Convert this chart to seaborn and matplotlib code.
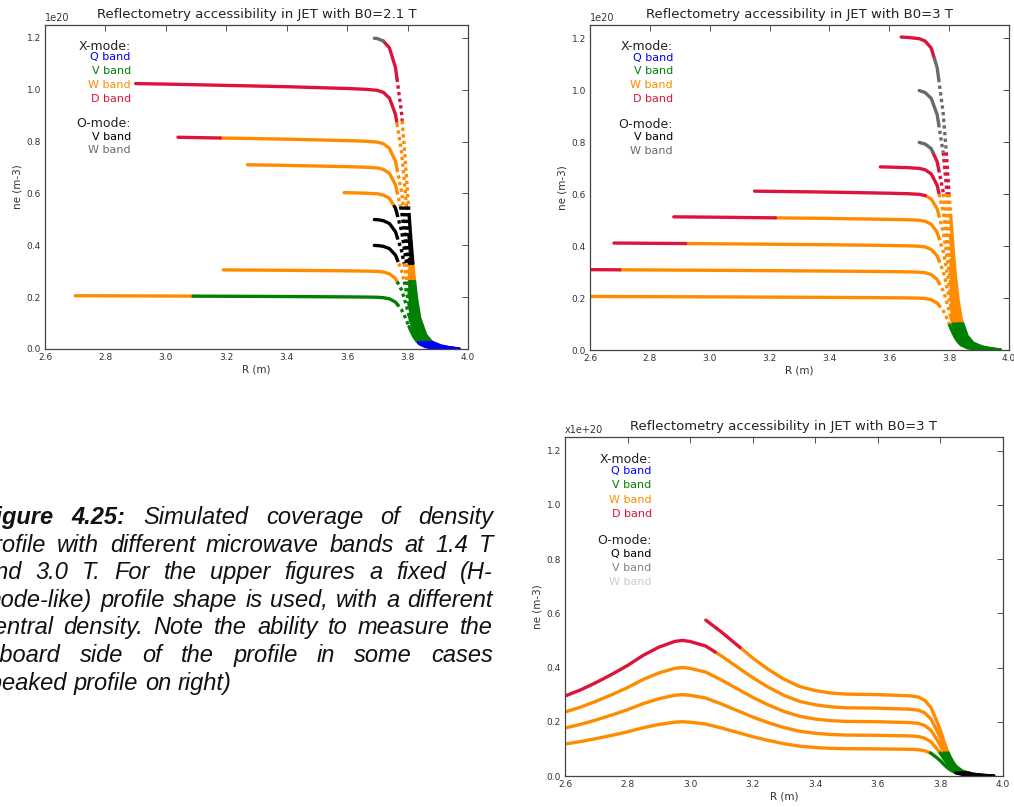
import numpy as np
import pandas as pd
import matplotlib
matplotlib.use("Agg")
import matplotlib.pyplot as plt
import seaborn as sns

# ---------------------------------------------------------------- data
x_ticks = [2.6, 2.8, 3.0, 3.2, 3.4, 3.6, 3.8, 4.0]
y_ticks = [0.0, 0.2, 0.4, 0.6, 0.8, 1.0, 1.2]

# H-mode-like profile shape, normalised to 1 at the pedestal top
hmode_R = [2.60, 3.00, 3.40, 3.60, 3.66, 3.70, 3.72, 3.74, 3.76, 3.78, 3.79,
           3.80, 3.81, 3.82, 3.83, 3.84, 3.86, 3.88, 3.91, 3.94, 3.97]
hmode_shape = [1.030, 1.022, 1.012, 1.005, 1.002, 0.998, 0.990, 0.968, 0.905,
               0.760, 0.640, 0.500, 0.365, 0.245, 0.160, 0.100, 0.045, 0.022,
               0.010, 0.004, 0.000]

# Peaked profile shape, normalised to 1 at the core maximum
peaked_R = [2.60, 2.65, 2.70, 2.75, 2.80, 2.85, 2.90, 2.95, 2.975, 3.00, 3.05,
            3.10, 3.15, 3.20, 3.25, 3.30, 3.35, 3.40, 3.45, 3.50, 3.60, 3.70,
            3.73, 3.75, 3.77, 3.79, 3.80, 3.81, 3.82, 3.83, 3.84, 3.85, 3.87,
            3.90, 3.93, 3.97]
peaked_shape = [0.590, 0.635, 0.690, 0.750, 0.815, 0.890, 0.950, 0.992, 1.000,
                0.992, 0.958, 0.885, 0.805, 0.725, 0.655, 0.595, 0.550, 0.525,
                0.510, 0.503, 0.500, 0.493, 0.485, 0.465, 0.420, 0.330, 0.280,
                0.220, 0.165, 0.120, 0.085, 0.058, 0.030, 0.013, 0.005, 0.000]

# B0 = 2.1 T : density scale of each profile (1e20 m^-3)
b21_density = [0.2, 0.3, 0.4, 0.5, 0.6, 0.7, 0.8, 1.0, 1.2]
# pieces along the flat part: (R where the band starts, band)
b21_pieces = [
    [(2.70, "XW"), (3.09, "XV")],
    [(3.19, "XW")],
    [(3.69, "OV")],
    [(3.69, "OV")],
    [(3.59, "XW")],
    [(3.27, "XW")],
    [(3.04, "XD"), (3.18, "XW")],
    [(2.90, "XD")],
    [(3.69, "OW")],
]
# bands reached on the steep edge, by density level
b21_edge = [(0.88, "XD"), (0.55, "XW"), (0.33, "OV"), (0.26, "XW"),
            (0.025, "XV"), (0.0, "XQ")]

# B0 = 3 T, H-mode-like profiles
b30_density = [0.2, 0.3, 0.4, 0.5, 0.6, 0.7, 0.8, 1.0, 1.2]
b30_pieces = [
    [(2.60, "XW")],
    [(2.60, "XD"), (2.70, "XW")],
    [(2.68, "XD"), (2.92, "XW")],
    [(2.88, "XD"), (3.22, "XW")],
    [(3.15, "XD")],
    [(3.57, "XD")],
    [(3.70, "OW")],
    [(3.70, "OW")],
    [(3.64, "XD")],
]
b30_edge = [(1.12, "XD"), (0.76, "OW"), (0.60, "XD"), (0.10, "XW"), (0.0, "XV")]

# B0 = 3 T, peaked profiles (density at the core maximum)
pk_density = [0.2, 0.3, 0.4, 0.5, 0.6]
pk_pieces = [
    [(2.60, "XW")],
    [(2.60, "XW")],
    [(2.60, "XW")],
    [(2.60, "XD"), (3.08, "XW")],
    [(3.05, "XD"), (3.16, "XW")],
]
pk_edge = [(0.085, "XW"), (0.012, "XV"), (0.0, "OQ")]

# colours of each band
pal_fixed = {"XQ": "#0000ff", "XV": "#008000", "XW": "#ff8c00", "XD": "#dc143c",
             "OV": "#000000", "OW": "#6a6a6a"}
pal_peaked = {"XQ": "#0000ff", "XV": "#008000", "XW": "#ff8c00", "XD": "#dc143c",
              "OQ": "#000000", "OV": "#858585", "OW": "#cccccc"}

xmode_keys = ["XQ", "XV", "XW", "XD"]
xmode_names = ["Q band", "V band", "W band", "D band"]
omode_keys_fixed = ["OV", "OW"]
omode_names_fixed = ["V band", "W band"]
omode_keys_peaked = ["OQ", "OV", "OW"]
omode_names_peaked = ["Q band", "V band", "W band"]

caption_lines = [
    ["Figure", "4.25:", "Simulated", "coverage", "of", "density"],
    "profile with different microwave bands at 1.4 T".split(),
    "and 3.0 T. For the upper figures a fixed (H-".split(),
    "mode-like) profile shape is used, with a different".split(),
    "central density. Note the ability to measure the".split(),
    "inboard side of the profile in some cases".split(),
    "(peaked profile on right)".split(),
]


# ---------------------------------------------------------------- helpers
def profile_frame(R_grid, shape, densities, pieces, edge_R, edge_bands,
                  steep=None):
    """Split every profile into coloured pieces and gather them in a table.

    Inside the `steep` R interval the sampled points spread apart, so
    those pieces are drawn with a broken line.
    """
    R_grid = np.asarray(R_grid, float)
    f = np.asarray(shape, float)
    rows = []
    seg_id = 0
    for n0, plist in zip(densities, pieces):
        marks = [(r, b) for r, b in plist if r < edge_R]
        f_edge0 = np.interp(edge_R, R_grid, f)
        Re = np.concatenate([[edge_R], R_grid[R_grid > edge_R]])
        ne_e = n0 * np.concatenate([[f_edge0], f[R_grid > edge_R]])
        start_band = edge_bands[-1][1]
        for lvl, b in edge_bands:
            if ne_e[0] >= lvl:
                start_band = b
                break
        marks.append((edge_R, start_band))
        for i in range(len(edge_bands) - 1):
            lvl = edge_bands[i][0]
            if lvl < ne_e[0]:
                r_cross = np.interp(lvl, ne_e[::-1], Re[::-1])
                marks.append((float(r_cross), edge_bands[i + 1][1]))
        marks.sort()
        merged = []
        for r, b in marks:
            if merged and merged[-1][1] == b:
                continue
            merged.append((r, b))
        cuts = [r for r, _ in merged]
        if steep is not None:
            cuts += [s for s in steep if s > cuts[0]]
        cuts = sorted(set(cuts)) + [R_grid[-1]]
        for a, e in zip(cuts[:-1], cuts[1:]):
            if e <= a:
                continue
            band = [b for r, b in merged if r <= a][-1]
            look = "flat"
            if steep is not None and steep[0] <= a < steep[1]:
                look = "steep"
            inner = R_grid[(R_grid > a) & (R_grid < e)]
            R = np.concatenate([[a], inner, [e]])
            ne = n0 * np.interp(R, R_grid, f)
            for rv, nv in zip(R, ne):
                rows.append({"R": rv, "ne": nv, "band": band, "look": look,
                             "seg": seg_id})
            seg_id += 1
    return pd.DataFrame(rows)


def style_axes(ax, title, offset):
    ax.set_xlim(2.6, 4.0)
    ax.set_ylim(0.0, 1.25)
    ax.set_xticks(x_ticks)
    ax.set_yticks(y_ticks)
    ax.set_xticklabels([f"{v:.1f}" for v in x_ticks])
    ax.set_yticklabels([f"{v:.1f}" for v in y_ticks])
    ax.tick_params(direction="in", top=True, right=True, length=4, width=0.6,
                   labelsize=6.5, pad=3, colors="#333333")
    ax.set_title(title, fontsize=9.5, pad=5, color="#222222")
    ax.set_xlabel("R (m)", fontsize=7.5, labelpad=2, color="#333333")
    ax.set_ylabel("ne (m-3)", fontsize=7.5, labelpad=3, color="#333333")
    for s in ax.spines.values():
        s.set_color("#444444")
        s.set_linewidth(0.9)
        s.set_visible(True)
    ax.text(0.0, 1.006, offset, transform=ax.transAxes, fontsize=7,
            ha="left", va="bottom", color="#333333")


def band_key(ax, pal, okeys, onames, ys_x, ys_o, xr=0.200):
    ax.text(xr, ys_x[0], "X-mode:", transform=ax.transAxes, ha="right",
            va="center", fontsize=9, color="#222222")
    for k, n, y in zip(xmode_keys, xmode_names, ys_x[1:]):
        ax.text(xr, y, n, transform=ax.transAxes, ha="right", va="center",
                fontsize=8, color=pal[k])
    ax.text(xr, ys_o[0], "O-mode:", transform=ax.transAxes, ha="right",
            va="center", fontsize=9, color="#222222")
    for k, n, y in zip(okeys, onames, ys_o[1:]):
        ax.text(xr, y, n, transform=ax.transAxes, ha="right", va="center",
                fontsize=8, color=pal[k])


def draw_profiles(ax, df, pal):
    looks = sorted(df["look"].unique())
    dashes = {"flat": "", "steep": (1.0, 1.0)}
    sns.lineplot(data=df, x="R", y="ne", hue="band", units="seg",
                 style="look", style_order=looks,
                 dashes={k: dashes[k] for k in looks},
                 estimator=None, palette=pal, legend=False, sort=False,
                 linewidth=2.4, solid_capstyle="round", ax=ax)


# ---------------------------------------------------------------- figure
sns.set_style("white")
plt.rcParams["font.family"] = ["DejaVu Sans"]

W, H = 1014, 807
fig = plt.figure(figsize=(W / 100, H / 100), dpi=100)


def px_axes(left, top, right, bottom):
    return fig.add_axes([left / W, 1 - bottom / H, (right - left) / W,
                         (bottom - top) / H])


ax1 = px_axes(45, 25, 468, 349)
ax2 = px_axes(590, 25, 1009, 350)
ax3 = px_axes(565, 437, 1003, 776)

df1 = profile_frame(hmode_R, hmode_shape, b21_density, b21_pieces, 3.72,
                    b21_edge, steep=(3.765, 3.805))
df2 = profile_frame(hmode_R, hmode_shape, b30_density, b30_pieces, 3.72,
                    b30_edge, steep=(3.765, 3.805))
df3 = profile_frame(peaked_R, peaked_shape, pk_density, pk_pieces, 3.74,
                    pk_edge)

draw_profiles(ax1, df1, pal_fixed)
draw_profiles(ax2, df2, pal_fixed)
draw_profiles(ax3, df3, pal_peaked)

style_axes(ax1, "Reflectometry accessibility in JET with B0=2.1 T", "1e20")
style_axes(ax2, "Reflectometry accessibility in JET with B0=3 T", "1e20")
style_axes(ax3, "Reflectometry accessibility in JET with B0=3 T", "x1e+20")

ys_x = [0.935, 0.900, 0.858, 0.815, 0.773]
ys_o = [0.695, 0.655, 0.613]
band_key(ax1, pal_fixed, omode_keys_fixed, omode_names_fixed, ys_x, ys_o, 0.203)
band_key(ax2, pal_fixed, omode_keys_fixed, omode_names_fixed, ys_x, ys_o, 0.198)
band_key(ax3, pal_peaked, omode_keys_peaked, omode_names_peaked, ys_x,
         [0.694, 0.656, 0.614, 0.573], 0.198)

# ---------------------------------------------------------------- caption
cap_left, cap_right = -18, 493
cap_base0, cap_step = 524, 27.6
cap_font = dict(family="Liberation Sans", fontsize=17, style="italic")
fig.canvas.draw()
renderer = fig.canvas.get_renderer()
for i, words in enumerate(caption_lines):
    yb = 1 - (cap_base0 + i * cap_step) / H
    objs = []
    for j, w in enumerate(words):
        bold = (i == 0 and j < 2)
        objs.append(fig.text(0, yb, w, va="baseline", ha="left",
                             fontweight="bold" if bold else "normal",
                             color="#111111", **cap_font))
    widths = [o.get_window_extent(renderer).width for o in objs]
    if i < len(caption_lines) - 1:
        gap = (cap_right - cap_left - sum(widths)) / (len(words) - 1)
    else:
        gap = 0.278 * 17 * 100 / 72
    x = cap_left
    for o, wd in zip(objs, widths):
        o.set_x(x / W)
        x += wd + gap

fig.savefig("out.png", dpi=100)
